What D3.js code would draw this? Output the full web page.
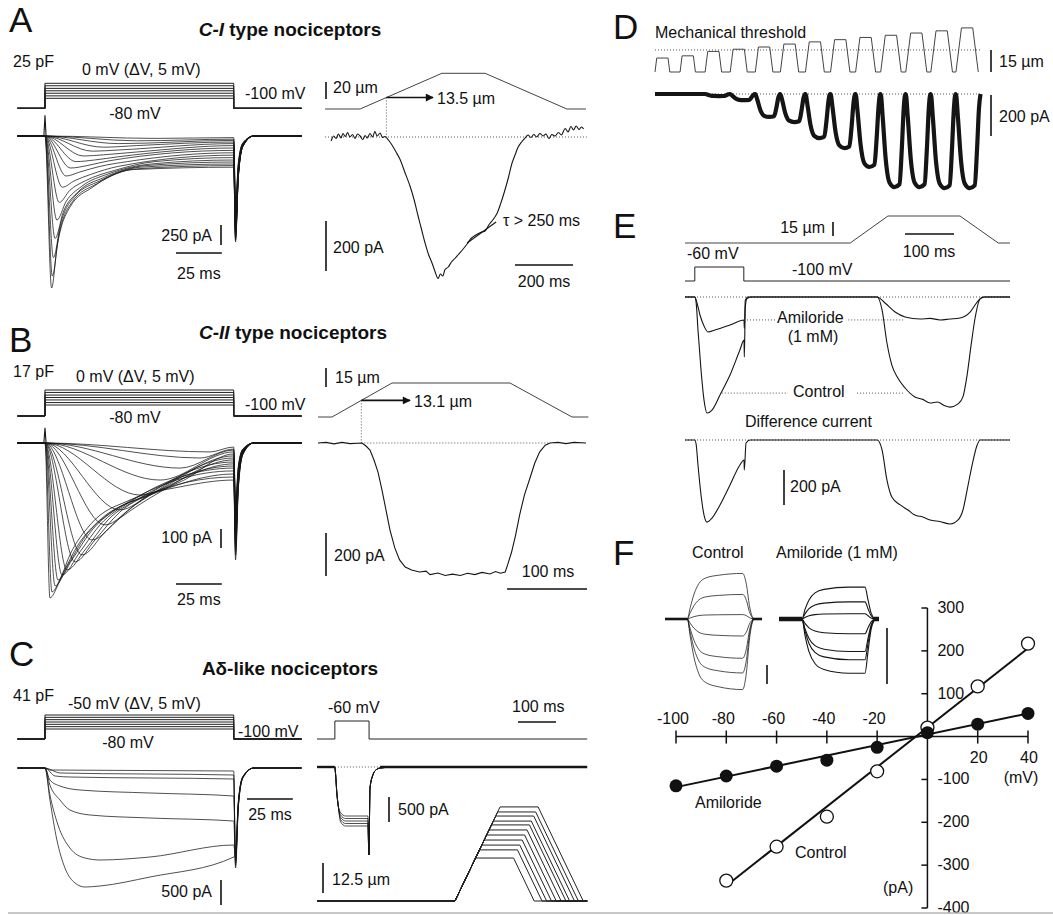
<!DOCTYPE html>
<meta charset="utf-8">
<head>
    <title>Mechanically activated currents in nociceptors</title>
</head>
<style>
 body { margin: 0; background: #fff; }
 svg { display: block; font-family: "Liberation Sans", Arial, Helvetica, sans-serif; }
 .trace { fill: none; stroke: #151515; stroke-width: 0.75px; }
 .trace2 { fill: none; stroke: #151515; stroke-width: 1.1px; }
 .noisy { fill: none; stroke: #151515; stroke-width: 4.2px; stroke-linejoin: round; }
 .cmd { fill: none; stroke: #222; stroke-width: 1px; }
 .stim { fill: none; stroke: #444; stroke-width: 1px; }
 .bar { stroke: #111; stroke-width: 1.6px; }
 .dots { fill: none; stroke: #444; stroke-width: 0.9px; stroke-dasharray: 1,2; }
 .axis { stroke: #111; stroke-width: 1.5px; }
 .fit { stroke: #111; stroke-width: 2px; }
 .lbl { font-size: 16px; fill: #111; }
 .letter { font-size: 35px; fill: #111; }
 .title { font-size: 19px; font-weight: bold; fill: #111; }
</style>
<body>
<svg id="fig"></svg>
<script src="https://d3js.org/d3.v7.min.js"></script>
<script>

 // ---------- data (ms, pA, mV, µm) ----------

 // command steps drawn for the voltage families
 var cmdLevelsAB = [-80, -67, -53, -40, -27, -13, 0];
 var cmdLevelsC = [-80, -75, -70, -65, -60, -55, -50];

 // A, C-I currents: [t, I] after step onset
 var tracesA = [
     [[3.6,-1900],[6.5,-1400],[13.6,-890],[26,-640],[48,-420],[103,-390]],
     [[4.0,-1750],[7.5,-1250],[15,-820],[28,-600],[50,-410],[103,-370]],
     [[4.6,-1520],[8.5,-1100],[16,-760],[30,-560],[52,-390],[103,-350]],
     [[5.5,-1280],[10,-950],[18,-700],[32,-520],[55,-370],[103,-325]],
     [[6.5,-1050],[11.5,-820],[20,-630],[35,-470],[58,-350],[103,-300]],
     [[7.8,-830],[13.5,-680],[22,-560],[38,-430],[60,-320],[103,-270]],
     [[9.5,-640],[16,-560],[25,-480],[40,-380],[103,-240]],
     [[11.5,-500],[19,-450],[30,-380],[45,-320],[103,-210]],
     [[14,-400],[23,-370],[35,-310],[103,-180]],
     [[17,-320],[27,-300],[40,-260],[103,-150]],
     [[21,-250],[32,-235],[50,-200],[103,-120]],
     [[26,-190],[40,-175],[103,-95]],
     [[32,-140],[50,-120],[103,-75]],
     [[40,-95],[103,-55]],
     [[50,-60],[103,-40]],
     [[60,-30],[103,-20]]
 ];
 var tailsA = [-1325,-1300,-1280,-1260,-1240,-1220,-1200,-1180,-1150,-1120,-1080,-1040,-1000,-950,-900,-850];

 // B, C-II currents
 var tracesB = [
     [[2.7,-815],[7.1,-747],[13.6,-589],[24.6,-431],[46.4,-300],[73.7,-231],[103,-195]],
     [[3.8,-784],[9.3,-694],[18,-537],[30,-405],[51.9,-289],[103,-179]],
     [[5.5,-752],[12.6,-642],[21.8,-494],[35.5,-368],[57.3,-274],[103,-163]],
     [[7.1,-721],[14.7,-615],[25.7,-458],[40.9,-337],[103,-147]],
     [[9.3,-694],[19.1,-573],[30,-431],[46.4,-310],[103,-132]],
     [[12,-668],[21.8,-563],[34.4,-405],[51.9,-289],[103,-121]],
     [[16.4,-626],[27.3,-510],[40.9,-363],[62.8,-247],[103,-110]],
     [[20.2,-589],[32.8,-468],[49.1,-326],[103,-100]],
     [[25.7,-510],[40.9,-395],[62.8,-258],[103,-89]],
     [[32.8,-431],[49.1,-326],[103,-79]],
     [[40.9,-352],[57.3,-274],[103,-68]],
     [[51.9,-274],[73.7,-205],[103,-58]],
     [[62.8,-195],[103,-47]],
     [[73.7,-132],[103,-37]],
     [[84.6,-79],[103,-32]],
     [[90.1,-47],[103,-21]]
 ];
 var tailsB = [-615,-590,-570,-550,-530,-510,-490,-470,-450,-430,-410,-390,-370,-350,-330,-310];

 // C, Aδ-like currents
 var tracesC = [
     [[2.7,-40],[103,-60]],
     [[8.2,-100],[103,-140]],
     [[5.5,-160],[13.6,-180],[103,-220]],
     [[2.7,-240],[8.2,-360],[19.1,-440],[57.3,-500],[103,-560]],
     [[2.7,-340],[8.2,-640],[13.6,-840],[24.6,-940],[57.3,-1000],[103,-1060]],
     [[2.7,-540],[7.1,-1140],[13.6,-1600],[21.8,-1800],[30,-1840],[57.3,-1780],[103,-1540]],
     [[2.7,-640],[6.5,-1440],[10.9,-2000],[16.4,-2300],[21.8,-2380],[30,-2360],[57.3,-2180],[103,-1780]]
 ];
 var tailsC = [-2000,-1950,-1900,-1850,-1800,-1750,-1700];

 // A right: ramp stimulus (µm) and MA current
 var stimA = [[0,0],[121,0],[403,42],[552,42],[834,0],[900,0]];
 var threshA = 13.5;
 var mechCurA = [[21,-16],[30,4],[38,-6],[46,12],[55,-4],[62,14],[70,2],[78,18],[86,0],[95,10],[104,-6],[112,12],
     [121,4],[130,-10],[138,6],[146,-4],[155,14],[164,0],[172,22],[180,4],[190,16],[198,-2],[207,2],[220,-14],
     [231,-32],[245,-60],[259,-90],[275,-140],[293,-196],[307,-250],[321,-316],[333,-370],[345,-424],[357,-470],
     [369,-504],[380,-540],[390,-566],[398,-548],[406,-556],[414,-530],[425,-520],[436,-500],[448,-486],[460,-470],
     [475,-450],[490,-428],[505,-404],[520,-392],[540,-380],[552,-376],[566,-350],[580,-330],[593,-306],[607,-262],
     [621,-210],[633,-160],[645,-104],[656,-70],[666,-40],[678,-20],[690,-4],[700,8],[710,-2],[720,10],[730,0],
     [741,14],[752,4],[762,12],[772,-6],[782,10],[793,4],[805,18],[815,8],[828,34],[838,20],[848,42],[857,28],
     [866,44],[876,30],[884,40],[892,32]];
 var tauFitA = [[490,-424],[590,-340]];

 // B right
 var stimB = [[0,0],[17.5,0],[92.5,26.8],[240,26.8],[317.5,0],[338,0]];
 var threshB = 13.1;
 var mechCurB = [[0,0],[10,3],[20,-4],[30,3],[40,-3],[55,0],[60,-14],[65,-33],[70,-79],[75,-135],[80,-219],
     [85,-312],[90,-405],[96,-488],[102,-544],[109,-577],[117,-591],[127,-600],[135,-596],[140,-612],[150,-605],
     [159,-616],[168,-610],[178,-616],[187,-606],[196,-612],[205,-602],[215,-609],[222,-598],[228,-606],[234,-600],
     [237,-567],[242,-507],[247,-428],[252,-335],[258,-242],[265,-163],[271,-93],[277,-42],[284,-10],[290,0],
     [300,3],[310,-3],[320,3],[335,0]];

 // C right: -60 mV prepulse currents and ramp family
 var prepulseC = [47, 137];
 var prepulseLevelsC = [-980, -1030, -1080, -1130, -1180];
 var mechAmpsC = [17.9, 21.3, 23.3, 25.4, 27.5, 29.6, 31.7, 33.3, 35.4, 37.1, 39.2];
 var rampStartC = 363, rampRateC = 0.33, holdC = 100;

 // D: mechanical threshold series
 var stimAmpsD = [9.5, 11, 14, 15.5, 17, 19, 20.5, 22, 23.5, 25, 26.5, 28, 30];
 var respD = [0, 0, 10, 30, 112, 137, 215, 264, 356, 454, 454, 459, 459];
 var rampRateD = 1.36, holdD = 45, periodD = 100, threshD = 15;
 var respShapeD = [[0,0],[8,0.25],[20,0.7],[35,0.95],[55,1],[75,0.97],[84,0.6],[92,0.15],[98,0]];

 // E: amiloride block
 var stimE = [[0,0],[337,0],[414,29],[561,29],[639,0],[663,0]];
 var cmdE = [[0,-100],[20,-100],[20,-60],[120,-60],[120,-100],[663,-100]];
 var controlE = [[0,0],[20,0],[23,-40],[26.5,-189],[32.7,-417],[38.8,-589],[44.9,-663],[55.1,-646],[71.4,-560],
     [91.8,-446],[112,-303],[120.4,-246],[121,-343],[123,-60],[126,-10],[135,0],[392,0],[402,-74],[412,-263],
     [422,-389],[433,-457],[449,-520],[469,-571],[485,-585],[500,-606],[515,-600],[530,-622],[541,-629],[557,-611],
     [567,-571],[575.5,-446],[583.7,-274],[591.8,-120],[602,-11],[612,0],[663,0]];
 var amilorideE = [[0,0],[20,0],[25,-40],[30.6,-103],[38.8,-166],[46.9,-200],[61.2,-189],[91.8,-160],[120.4,-131],
     [121,-180],[123,-20],[128,0],[392,0],[408,-34],[428.6,-86],[449,-114],[479.6,-126],[500,-122],[520,-131],
     [540,-126],[561,-120],[581.6,-86],[596,-29],[608,0],[663,0]];
 var differenceE = [[0,0],[20,0],[23,-30],[26.5,-143],[32.7,-314],[38.8,-429],[44.9,-469],[55.1,-446],[71.4,-371],
     [91.8,-257],[112,-143],[120.4,-114],[121,-171],[124.5,-17],[132.7,0],[392,0],[402,-57],[412,-229],[422,-326],
     [439,-371],[455,-400],[469,-429],[485,-440],[500,-457],[520,-466],[541,-480],[557,-457],[567,-400],
     [575.5,-286],[585.7,-143],[596,-29],[602,0],[663,0]];

 // F: I-V relation
 var controlV = [-80, -60, -40, -20, 0, 20, 40];
 var controlI = [-336, -257, -187, -81, 21, 117, 217];
 var amilorideV = [-100, -80, -60, -40, -20, 0, 20, 40];
 var amilorideI = [-115, -92, -69, -55, -25, 9, 29, 54];
 var controlFit = [[-80,-348],[40,206]];
 var amilorideFit = [[-100,-118],[40,54]];
 var xTicksF = [-100, -80, -60, -40, -20, 20, 40];
 var yTicksF = [300, 200, 100, -100, -200, -300, -400];
 var insetShapeControl = [[0,0],[23,0],[26,0.25],[30,0.55],[35,0.78],[42,0.9],[55,0.96],[80,1],[84,0.75],
     [87,0.3],[90,0.05],[92,0],[100,0]];
 var insetShapeAmil = [[0,0],[23,0],[26,0.3],[30,0.6],[36,0.82],[45,0.93],[70,1],[86,1],[89,0.6],[92,0.2],
     [95,0.03],[97,0],[100,0]];

 // ---------- helpers ----------

 var svg = d3.select("#fig").attr("width", 1053).attr("height", 915);

 svg.append("defs").append("marker")
    .attr("id", "arrow").attr("viewBox", "0 0 10 10")
    .attr("refX", 9).attr("refY", 5)
    .attr("markerWidth", 9).attr("markerHeight", 8)
    .attr("markerUnits", "userSpaceOnUse")
    .attr("orient", "auto")
    .append("path").attr("d", "M0,0L10,5L0,10z").attr("fill", "#111");

 function drawLine(pts, x, y, cls, curve) {
     return svg.append("path")
               .datum(pts)
               .attr("class", cls)
               .attr("d", d3.line()
                            .x(function(d) { return x(d[0]); })
                            .y(function(d) { return y(d[1]); })
                            .curve(curve || d3.curveLinear));
 }

 function txt(x, y, s, cls, anchor) {
     return svg.append("text")
               .attr("x", x).attr("y", y)
               .attr("class", cls || "lbl")
               .attr("text-anchor", anchor || "start")
               .text(s);
 }

 function seg(x1, y1, x2, y2, cls) {
     return svg.append("line")
               .attr("x1", x1).attr("y1", y1)
               .attr("x2", x2).attr("y2", y2)
               .attr("class", cls || "bar");
 }

 function title(cx, y, ital, rest) {
     var t = svg.append("text").attr("x", cx).attr("y", y)
                .attr("class", "title").attr("text-anchor", "middle");
     if (ital) t.append("tspan").attr("font-style", "italic").text(ital);
     t.append("tspan").text(rest);
 }

 // ---------- left column: step families ----------

 var xStep = d3.scaleLinear().domain([-15, 140]).range([17.5, 301.5]);
 var tOff = 103;

 function stepFamily(levels, yCmd) {
     levels.forEach(function(L) {
         drawLine([[-15,-100],[0,-100],[0,L],[tOff,L],[tOff,-100],[140,-100]], xStep, yCmd, "cmd");
     });
 }

 function currentFamily(traces, tails, yCur) {
     traces.forEach(function(tr, i) {
         var tl = tails[i];
         var pts = [[-15,0],[0,0]].concat(tr,
             [[104, tl],[105.5, tl * 0.4],[108, tl * 0.1],[114, 0],[140, 0]]);
         drawLine(pts, xStep, yCur, "trace", d3.curveMonotoneX);
     });
 }

 function scaleBars(yCur, pA, vx, vy, tx, ty, msY, msTextY) {
     seg(vx, vy, vx, vy + (yCur(-pA) - yCur(0)));
     txt(vx - 9, ty, pA + " pA", "lbl", "end");
     seg(tx, msY, tx + (xStep(25) - xStep(0)), msY);
     txt(tx + (xStep(25) - xStep(0)) / 2, msTextY, "25 ms", "lbl", "middle");
 }

 // Panel A
 txt(9, 32, "A", "letter");
 title(290, 36, "C-I", " type nociceptors");
 txt(13, 67, "25 pF");
 txt(82, 75, "0 mV (\u0394V, 5 mV)");
 txt(245, 99, "-100 mV");
 txt(135, 119, "-80 mV", "lbl", "middle");
 var yCmdA = d3.scaleLinear().domain([-100, -80, 0]).range([108.3, 98.3, 83.3]);
 var yCurA = d3.scaleLinear().domain([0, -2000]).range([136, 296]);
 stepFamily(cmdLevelsAB, yCmdA);
 currentFamily(tracesA, tailsA, yCurA);
 drawLine([[-0.6,0],[0,260],[0.6,0]], xStep, yCurA, "trace2");
 scaleBars(yCurA, 250, 221, 225, 176, 241, 253, 279);

 // Panel B
 txt(9, 352, "B", "letter");
 title(293, 339, "C-II", " type nociceptors");
 txt(13, 377, "17 pF");
 txt(76, 382, "0 mV (\u0394V, 5 mV)");
 txt(245, 410, "-100 mV");
 txt(135, 423, "-80 mV", "lbl", "middle");
 var yCmdB = d3.scaleLinear().domain([-100, -80, 0]).range([416, 405, 390]);
 var yCurB = d3.scaleLinear().domain([0, -1000]).range([443, 633]);
 stepFamily(cmdLevelsAB, yCmdB);
 currentFamily(tracesB, tailsB, yCurB);
 drawLine([[-0.6,0],[0,80],[0.6,0]], xStep, yCurB, "trace2");
 scaleBars(yCurB, 100, 221, 529, 176, 543, 584, 605);

 // Panel C
 txt(9, 666, "C", "letter");
 title(290, 675, "", "A\u03b4-like nociceptors");
 txt(13, 701, "41 pF");
 txt(68, 709, "-50 mV (\u0394V, 5 mV)");
 txt(238, 737, "-100 mV");
 txt(128, 748, "-80 mV", "lbl", "middle");
 var yCmdC = d3.scaleLinear().domain([-100, -80, -50]).range([739, 729, 715]);
 var yCurC = d3.scaleLinear().domain([0, -2500]).range([768, 893]);
 stepFamily(cmdLevelsC, yCmdC);
 currentFamily(tracesC, tailsC, yCurC);
 seg(221, 880, 221, 880 + (yCurC(-500) - yCurC(0)));
 txt(212, 897, "500 pA", "lbl", "end");
 seg(247, 799, 247 + (xStep(25) - xStep(0)), 799);
 txt(270, 820, "25 ms", "lbl", "middle");

 // ---------- middle column: mechanical stimuli ----------

 // A right
 var xMechA = d3.scaleLinear().domain([0, 900]).range([325, 586]);
 var yDispA = d3.scaleLinear().domain([0, 42]).range([109, 73.3]);
 var yCurAR = d3.scaleLinear().domain([0, -800]).range([137, 337]);
 drawLine(stimA, xMechA, yDispA, "stim");
 var tThA = 121 + threshA / 42 * (403 - 121);
 seg(xMechA(tThA), yDispA(threshA), xMechA(tThA), yCurAR(0), "dots");
 seg(xMechA(0), yCurAR(0), xMechA(903), yCurAR(0), "dots");
 drawLine(mechCurA, xMechA, yCurAR, "trace2", d3.curveCatmullRom);
 drawLine(tauFitA, xMechA, yCurAR, "trace2");
 seg(xMechA(tThA), yDispA(threshA), 433, yDispA(threshA)).attr("marker-end", "url(#arrow)");
 txt(437, 104, "13.5 \u00b5m");
 txt(503, 226, "\u03c4 > 250 ms");
 seg(326, 82, 326, 82 + (yDispA(0) - yDispA(20)));
 txt(333, 93, "20 \u00b5m");
 seg(326, 221, 326, 221 + (yCurAR(-200) - yCurAR(0)));
 txt(333, 253, "200 pA");
 seg(515, 265, 515 + xMechA(200) - xMechA(0), 265);
 txt(544, 287, "200 ms", "lbl", "middle");

 // B right
 var xMechB = d3.scaleLinear().domain([0, 338]).range([318, 588.4]);
 var yDispB = d3.scaleLinear().domain([0, 26.8]).range([417, 383]);
 var yCurBR = d3.scaleLinear().domain([0, -1000]).range([443, 658]);
 drawLine(stimB, xMechB, yDispB, "stim");
 var tThB = 17.5 + threshB / 26.8 * (92.5 - 17.5);
 seg(xMechB(tThB), yDispB(threshB), xMechB(tThB), yCurBR(0), "dots");
 seg(xMechB(tThB), yCurBR(0), xMechB(290), yCurBR(0), "dots");
 drawLine(mechCurB, xMechB, yCurBR, "trace2", d3.curveLinear);
 seg(xMechB(tThB), yDispB(threshB), 410, yDispB(threshB)).attr("marker-end", "url(#arrow)");
 txt(414, 407, "13.1 \u00b5m");
 seg(326, 368, 326, 368 + (yDispB(0) - yDispB(15)));
 txt(335, 383, "15 \u00b5m");
 seg(326, 533, 326, 533 + (yCurBR(-200) - yCurBR(0)));
 txt(334, 561, "200 pA");
 seg(507, 589, 507 + xMechB(100) - xMechB(0), 589);
 txt(548, 577, "100 ms", "lbl", "middle");

 // C right
 var xMechC = d3.scaleLinear().domain([0, 711]).range([317, 587.2]);
 var yCmdCR = d3.scaleLinear().domain([-100, -60]).range([739, 721]);
 var yCurCR = d3.scaleLinear().domain([0, -2000]).range([767, 867]);
 var yDispC = d3.scaleLinear().domain([0, 40]).range([901, 805]);
 drawLine([[0,-100],[prepulseC[0],-100],[prepulseC[0],-60],[prepulseC[1],-60],[prepulseC[1],-100],[711,-100]],
          xMechC, yCmdCR, "cmd");
 seg(xMechC(prepulseC[0]), yCurCR(0), xMechC(166), yCurCR(0), "dots");
 drawLine([[0,0],[prepulseC[0],0]], xMechC, yCurCR, "trace2").style("stroke-width", "2.4px");
 drawLine([[166,0],[711,0]], xMechC, yCurCR, "trace2").style("stroke-width", "2.4px");
 prepulseLevelsC.forEach(function(L) {
     drawLine([[prepulseC[0],0],[49,-150],[52,-500],[56,-780],[62,L * 0.93],[75,L],[134,L],
               [136.5,-1760],[139.5,-420],[147,-160],[155,-60],[166,-20],[200,0]],
              xMechC, yCurCR, "trace", d3.curveMonotoneX);
 });
 mechAmpsC.forEach(function(a) {
     var up = a / rampRateC;
     drawLine([[0,0],[rampStartC,0],[rampStartC + up,a],[rampStartC + up + holdC,a],
               [rampStartC + 2 * up + holdC,0],[711,0]], xMechC, yDispC, "cmd");
 });
 txt(328, 713, "-60 mV");
 txt(512, 712, "100 ms");
 seg(518, 722, 518 + xMechC(100) - xMechC(0), 722);
 seg(389, 797, 389, 797 + (yCurCR(-500) - yCurCR(0)));
 txt(398, 815, "500 pA");
 seg(323, 863, 323, 863 + (yDispC(0) - yDispC(12.5)));
 txt(332, 885, "12.5 \u00b5m");

 // ---------- right column ----------

 // Panel D
 txt(613, 39, "D", "letter");
 txt(655, 38, "Mechanical threshold");
 var xD = d3.scaleLinear().domain([0, 1300]).range([655, 981]);
 var yDispD = d3.scaleLinear().domain([0, 30]).range([72, 27.9]);
 var yCurD = d3.scaleLinear().domain([0, -500]).range([94, 196.5]);
 var stimPtsD = [], curPtsD = [];
 stimAmpsD.forEach(function(a, i) {
     var t0 = periodD * i, up = a / rampRateD;
     stimPtsD.push([t0, 0], [t0 + up, a], [t0 + up + holdD, a], [t0 + 2 * up + holdD, 0]);
     respShapeD.forEach(function(p) { curPtsD.push([t0 + p[0], -respD[i] * p[1]]); });
 });
 seg(xD(0), yDispD(threshD), xD(1300), yDispD(threshD), "dots");
 seg(xD(0), yCurD(0), xD(1300), yCurD(0), "dots");
 drawLine(stimPtsD, xD, yDispD, "stim");
 drawLine(curPtsD, xD, yCurD, "noisy", d3.curveMonotoneX);
 seg(991, 50, 991, 50 + (yDispD(0) - yDispD(15)));
 txt(999, 67, "15 \u00b5m");
 seg(991, 95, 991, 95 + (yCurD(-200) - yCurD(0)));
 txt(999, 122, "200 pA");

 // Panel E
 txt(613, 238, "E", "letter");
 var xE = d3.scaleLinear().domain([0, 663]).range([685, 1010]);
 var yDispE = d3.scaleLinear().domain([0, 29]).range([243, 216]);
 var yCmdE = d3.scaleLinear().domain([-100, -60]).range([281, 267]);
 var yCurE = d3.scaleLinear().domain([0, -1000]).range([297, 472]);
 var yDiffE = d3.scaleLinear().domain([0, -1000]).range([440, 615]);
 drawLine(stimE, xE, yDispE, "stim");
 drawLine(cmdE, xE, yCmdE, "cmd");
 seg(xE(0), yCurE(0), xE(663), yCurE(0), "dots");
 seg(xE(0), yDiffE(0), xE(663), yDiffE(0), "dots");
 drawLine(controlE, xE, yCurE, "trace2", d3.curveMonotoneX);
 drawLine(amilorideE, xE, yCurE, "trace2", d3.curveMonotoneX);
 drawLine(differenceE, xE, yDiffE, "trace2", d3.curveMonotoneX);
 seg(xE(120.4), yCurE(-131), xE(185), yCurE(-131), "dots");
 seg(xE(333), yCurE(-131), xE(445), yCurE(-131), "dots");
 seg(xE(75), yCurE(-549), xE(210), yCurE(-549), "dots");
 seg(xE(351), yCurE(-549), xE(445), yCurE(-549), "dots");
 txt(825, 233, "15 \u00b5m", "lbl", "end");
 seg(833, 222, 833, 222 + (yDispE(0) - yDispE(15)));
 seg(905, 234, 905 + xE(100) - xE(0), 234);
 txt(929, 257, "100 ms", "lbl", "middle");
 txt(687, 259, "-60 mV");
 txt(792, 275, "-100 mV");
 txt(777, 323, "Amiloride");
 txt(813, 342, "(1 mM)", "lbl", "middle");
 txt(793, 397, "Control");
 txt(745, 427, "Difference current");
 seg(784, 470, 784, 470 + (yCurE(-200) - yCurE(0)));
 txt(790, 492, "200 pA");

 // Panel F
 txt(613, 565, "F", "letter");
 txt(692, 558, "Control");
 txt(776, 558, "Amiloride (1 mM)");

 var xInC = d3.scaleLinear().domain([0, 100]).range([665, 762]);
 var yInC = d3.scaleLinear().domain([0, 100]).range([619, 598]);
 var xInA = d3.scaleLinear().domain([0, 100]).range([779, 879]);
 var yInA = d3.scaleLinear().domain([0, 100]).range([619, 560]);
 controlI.forEach(function(I) {
     drawLine(insetShapeControl.map(function(p) { return [p[0], I * p[1]]; }), xInC, yInC, "trace", d3.curveMonotoneX);
 });
 amilorideI.slice(1).forEach(function(I) {
     drawLine(insetShapeAmil.map(function(p) { return [p[0], I * p[1]]; }), xInA, yInA, "trace2", d3.curveMonotoneX);
 });
 drawLine([[0,0],[23,0]], xInC, yInC, "trace2").style("stroke-width", "2.6px");
 drawLine([[90,0],[100,0]], xInC, yInC, "trace2").style("stroke-width", "2.6px");
 drawLine([[0,0],[23,0]], xInA, yInA, "trace2").style("stroke-width", "4.5px");
 drawLine([[95,0],[100,0]], xInA, yInA, "trace2").style("stroke-width", "4.5px");
 seg(767, 665, 767, 665 + (yInC(0) - yInC(100)) * 0.9);
 seg(887, 628, 887, 628 + (yInA(0) - yInA(100)) * 0.95);

 var xF = d3.scaleLinear().domain([-100, 40]).range([676, 1028]);
 var yF = d3.scaleLinear().domain([-400, 300]).range([908, 608]);
 seg(xF(-100), yF(0), xF(40), yF(0), "axis");
 seg(xF(0), yF(300), xF(0), yF(-400), "axis");
 xTicksF.forEach(function(v) {
     seg(xF(v), yF(0) - 6, xF(v), yF(0) + 7, "axis");
     if (v < 0) txt(xF(v) - 3, yF(0) - 13, v, "lbl", "middle");
     else txt(xF(v) + 1, yF(0) + 26, v, "lbl", "middle");
 });
 yTicksF.forEach(function(v) {
     seg(xF(0) - 6, yF(v), xF(0), yF(v), "axis");
     txt(xF(0) + 10, yF(v) + 5, v);
 });
 txt(1021, 783, "(mV)", "lbl", "middle");
 txt(883, 893, "(pA)");

 svg.append("line").datum(controlFit).attr("class", "fit")
    .attr("x1", function(d) { return xF(d[0][0]); }).attr("y1", function(d) { return yF(d[0][1]); })
    .attr("x2", function(d) { return xF(d[1][0]); }).attr("y2", function(d) { return yF(d[1][1]); });
 svg.append("line").datum(amilorideFit).attr("class", "fit")
    .attr("x1", function(d) { return xF(d[0][0]); }).attr("y1", function(d) { return yF(d[0][1]); })
    .attr("x2", function(d) { return xF(d[1][0]); }).attr("y2", function(d) { return yF(d[1][1]); });

 svg.append("g").selectAll("circle")
    .data(controlV.map(function(v, i) { return [v, controlI[i]]; }))
    .enter().append("circle")
    .attr("cx", function(d) { return xF(d[0]); })
    .attr("cy", function(d) { return yF(d[1]); })
    .attr("r", 6.5)
    .attr("fill", "#fff").attr("stroke", "#111").attr("stroke-width", 1.3);
 svg.append("g").selectAll("circle")
    .data(amilorideV.map(function(v, i) { return [v, amilorideI[i]]; }))
    .enter().append("circle")
    .attr("cx", function(d) { return xF(d[0]); })
    .attr("cy", function(d) { return yF(d[1]); })
    .attr("r", 6.5)
    .attr("fill", "#111");

 txt(695, 808, "Amiloride");
 txt(795, 858, "Control");

 // bottom rule
 seg(8, 913, 1053, 913).style("stroke", "#b5b5b5").style("stroke-width", "1.5px");

</script>
</body>
